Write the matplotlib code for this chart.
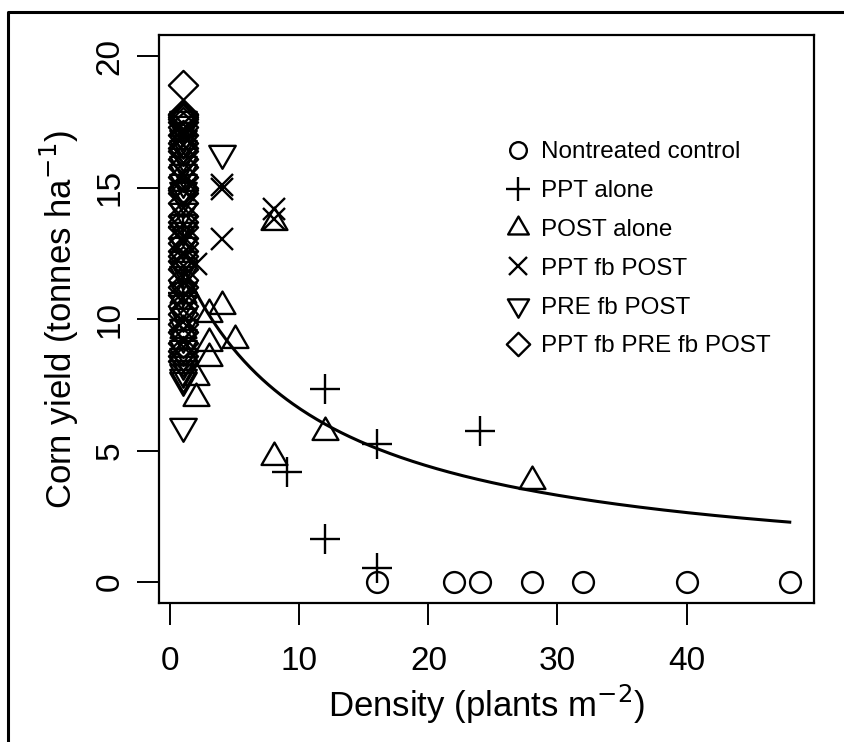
import numpy as np
import matplotlib.pyplot as plt
from matplotlib.path import Path
from matplotlib.lines import Line2D

plt.rcParams['font.family'] = ['Liberation Sans', 'DejaVu Sans']

# Data (density in plants m-2, yield in tonnes ha-1)
ctrl_x = [16, 22, 24, 28, 32, 40, 48]
ctrl_y = [0, 0, 0, 0, 0, 0, 0]

ppt_x = [1, 1, 9, 12, 12, 16, 16, 24]
ppt_y = [13.5, 11.0, 4.2, 7.35, 1.65, 5.25, 0.55, 5.75]

post_x = [1, 1, 1, 2, 2, 3, 3, 3, 4, 5, 8, 8, 12, 28]
post_y = [10.9, 9.6, 8.7, 7.8, 7.0, 10.2, 9.1, 8.5, 10.5, 9.2, 13.7, 4.75, 5.7, 3.85]

pptpost_x = [1, 1, 1, 1, 1, 1, 1, 1, 1, 1, 2, 4, 4, 4, 8, 8]
pptpost_y = [17.4, 17.0, 16.6, 15.5, 14.9, 13.0, 12.5, 11.6, 10.8, 9.9,
             12.1, 15.1, 14.95, 13.05, 14.2, 13.8]

prepost_x = [1] * 31 + [4]
prepost_y = [17.6, 17.4, 17.2, 16.9, 16.7, 16.5, 16.2, 15.9, 15.6, 15.2, 14.9,
             14.6, 14.1, 13.7, 13.4, 12.8, 12.3, 11.9, 11.7, 11.1, 10.6, 10.1,
             9.7, 9.3, 8.9, 8.6, 8.3, 8.0, 7.8, 7.7, 5.95, 16.3]

all3_x = [1] * 38
all3_y = [18.9, 17.8, 17.75, 17.7, 17.6, 17.5, 17.3, 17.0, 16.7, 16.5, 16.4,
          16.1, 15.8, 15.4, 15.0, 14.9, 14.8, 14.4, 13.9, 13.7, 13.5, 13.1,
          12.9, 12.6, 12.4, 12.2, 11.9, 11.5, 11.2, 10.9, 10.5, 10.2, 9.8,
          9.5, 9.1, 8.8, 8.6, 8.4]

# fitted yield curve  Y = a / (1 + b * density)
fit_a = 13.2
fit_b = 0.1
fit_from, fit_to = 1, 48

labels = ['Nontreated control', 'PPT alone', 'POST alone',
          'PPT fb POST', 'PRE fb POST', 'PPT fb PRE fb POST']

# R-like open symbols
tri_up = Path([(0, 1), (-0.866, -0.5), (0.866, -0.5), (0, 1)], closed=True)
tri_dn = Path([(0, -1), (-0.866, 0.5), (0.866, 0.5), (0, -1)], closed=True)
diamond = Path([(0, 1), (1, 0), (0, -1), (-1, 0), (0, 1)], closed=True)

fig = plt.figure(figsize=(8.45, 7.42), dpi=100)
ax = fig.add_axes([0.1882, 0.1873, 0.7751, 0.7655])

mew = 1.7
series = [
    (ctrl_x, ctrl_y, 'o', 15),
    (ppt_x, ppt_y, '+', 21),
    (post_x, post_y, tri_up, 21.5),
    (pptpost_x, pptpost_y, 'x', 16),
    (prepost_x, prepost_y, tri_dn, 22),
    (all3_x, all3_y, diamond, 21),
]
handles = []
for (xs, ys, m, ms), lab in zip(series, labels):
    h, = ax.plot(xs, ys, linestyle='none', marker=m, markersize=ms,
                 markerfacecolor='none', markeredgecolor='black',
                 markeredgewidth=mew, label=lab)
    handles.append(h)

dens = np.linspace(fit_from, fit_to, 300)
ax.plot(dens, fit_a / (1 + fit_b * dens), color='black', linewidth=2.2)

ax.set_xlim(-0.88, 49.88)
ax.set_ylim(-0.8, 20.8)
ax.set_xticks([0, 10, 20, 30, 40])
ax.set_yticks([0, 5, 10, 15, 20])
ax.tick_params(direction='out', length=16, width=1.4, labelsize=24, color='black')
ax.tick_params(axis='x', pad=15)
ax.tick_params(axis='y', pad=8)
for t in ax.get_yticklabels():
    t.set_rotation(90)
    t.set_va('center')
for s in ax.spines.values():
    s.set_linewidth(1.6)

ax.set_xlabel('Density (plants m$^{-2}$)', fontsize=25, labelpad=4)
ax.set_ylabel('Corn yield (tonnes ha$^{-1}$)', fontsize=25, labelpad=10)

ax.legend(handles=handles, loc='upper left', bbox_to_anchor=(0.511, 0.834),
          frameon=False, fontsize=17.5, markerscale=0.8, handlelength=1.0,
          handletextpad=0.45, labelspacing=0.69, borderpad=0)

# outer frame (top and left edges visible in the original)
fig.add_artist(Line2D([8 / 845, 8 / 845, 1], [0, 1 - 12 / 742, 1 - 12 / 742],
                      transform=fig.transFigure, color='black', linewidth=2.2))

fig.savefig('out.png', dpi=100)
